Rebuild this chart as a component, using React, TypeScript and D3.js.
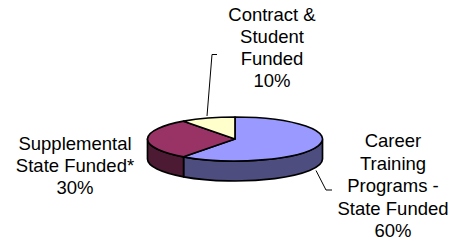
import React from "react";
import * as d3 from "d3";

const categories = ["Career Training Programs - State Funded", "Supplemental State Funded*", "Contract & Student Funded"];
const values = [60, 30, 10];
const labelLines = [
  ["Career", "Training", "Programs -", "State Funded"],
  ["Supplemental", "State Funded*"],
  ["Contract &", "Student", "Funded"],
];
const topColors = ["#9999FF", "#993366", "#FFFFCC"];
const sideColors = ["#4D4D80", "#4D1A33", "#80806A"];

const W = 451, H = 248;
const cx = 235, cy = 139, rx = 87.5, ry = 22, depth = 20;
const labelPos = [
  { x: 393, y: 147, lh: 22.5 },
  { x: 75, y: 149.5, lh: 22.3 },
  { x: 272, y: 21, lh: 22 },
];
const leaders = [
  [[316, 170.5], [326, 190], [332, 190]],
  null,
  [[207, 116], [212, 54.5], [217, 54.5]],
];

function pt(a: number, dy = 0): [number, number] {
  return [cx + rx * Math.sin(a), cy - ry * Math.cos(a) + dy];
}

export default function App() {
  const total = d3.sum(values);
  const pie = d3.pie<number>().sort(null).startAngle(0).endAngle(2 * Math.PI);
  const arcs = pie(values);
  const fmt = (v: number) => d3.format(".0%")(v / total);

  const sides = arcs.map((a, i) => {
    const s = Math.max(a.startAngle, Math.PI / 2);
    const e = Math.min(a.endAngle, (3 * Math.PI) / 2);
    if (e <= s) return null;
    const p0 = pt(s), p1 = pt(e), q1 = pt(e, depth), q0 = pt(s, depth);
    const large = e - s > Math.PI ? 1 : 0;
    const d = `M${p0[0]},${p0[1]} A${rx},${ry} 0 ${large} 1 ${p1[0]},${p1[1]} L${q1[0]},${q1[1]} A${rx},${ry} 0 ${large} 0 ${q0[0]},${q0[1]} Z`;
    return <path key={"s" + i} d={d} fill={sideColors[i]} stroke="#000" strokeWidth={1.7} strokeLinejoin="round" />;
  });

  const tops = arcs.map((a, i) => {
    const p0 = pt(a.startAngle), p1 = pt(a.endAngle);
    const large = a.endAngle - a.startAngle > Math.PI ? 1 : 0;
    const d = `M${cx},${cy} L${p0[0]},${p0[1]} A${rx},${ry} 0 ${large} 1 ${p1[0]},${p1[1]} Z`;
    return <path key={"t" + i} d={d} fill={topColors[i]} stroke="#000" strokeWidth={1.7} strokeLinejoin="round" />;
  });

  const line = d3.line();

  return (
    <svg width={W} height={H} style={{ position: "absolute", left: 0, top: 0, background: "#fff" }}
      fontFamily="'Liberation Sans', Arial, sans-serif" fontSize={18.5}>
      <rect width={W} height={H} fill="#fff" />
      {sides}
      {tops}
      {leaders.map((l, i) => l ? <path key={"l" + i} d={line(l as [number, number][]) || ""} fill="none" stroke="#000" strokeWidth={1} /> : null)}
      {categories.map((c, i) => {
        const lines = [...labelLines[i], fmt(values[i])];
        const p = labelPos[i];
        return (
          <text key={c} textAnchor="middle" fill="#000">
            {lines.map((t, j) => (
              <tspan key={j} x={p.x} y={p.y + j * p.lh}>{t}</tspan>
            ))}
          </text>
        );
      })}
    </svg>
  );
}
